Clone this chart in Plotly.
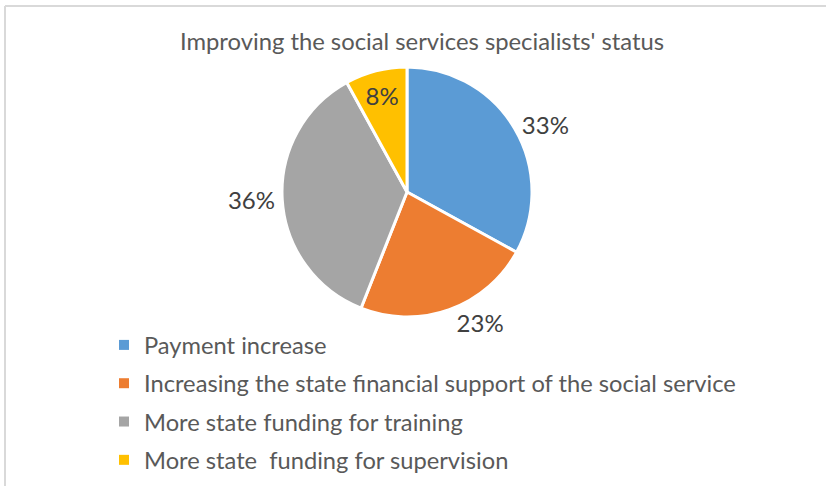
import plotly.graph_objects as go

# Survey shares for each proposed measure
categories = [
    "Payment increase",
    "Increasing the state financial support of the social service",
    "More state funding for training",
    "More state\u00a0 funding for supervision",
]
shares = [33, 23, 36, 8]
colors = ["#5B9BD5", "#ED7D31", "#A5A5A5", "#FFC000"]
label_positions = ["outside", "outside", "outside", "inside"]
title_text = "Improving the social services specialists' status"

W, H = 826, 486
cx, cy, r = 407, 192, 125  # pie centre and radius in pixels

fig = go.Figure()
fig.add_trace(go.Pie(
    labels=categories,
    values=shares,
    sort=False,
    direction="clockwise",
    rotation=0,
    marker=dict(colors=colors, line=dict(color="white", width=3)),
    texttemplate="%{value}%",
    textposition=label_positions,
    textfont=dict(family="Lato", size=24, color="#404040"),
    insidetextorientation="horizontal",
    showlegend=False,
    domain=dict(x=[(cx - r) / W, (cx + r) / W],
                y=[1 - (cy + r) / H, 1 - (cy - r) / H]),
    hoverinfo="label+percent",
))

# Legend entries as square markers, one group each so they can be spaced apart
for name, col in zip(categories, colors):
    fig.add_trace(go.Scatter(
        x=[None], y=[None], mode="markers", name=name, legendgroup=name,
        marker=dict(symbol="square", size=10, color=col, line=dict(width=0)),
    ))

fig.update_layout(
    width=W, height=H,
    margin=dict(l=0, r=0, t=0, b=0),
    paper_bgcolor="white", plot_bgcolor="white",
    xaxis=dict(visible=False), yaxis=dict(visible=False),
    title=dict(text=title_text, x=422 / W, xanchor="center",
               y=1 - 42 / H, yanchor="middle",
               font=dict(family="Lato", size=23.8, color="#595959")),
    legend=dict(x=104 / W, xanchor="left", y=1 - 323 / H, yanchor="top",
                font=dict(family="Lato", size=23.7, color="#595959"),
                tracegroupgap=4.5, bgcolor="rgba(0,0,0,0)"),
    shapes=[
        dict(type="line", xref="paper", yref="paper", x0=5 / W, x1=1, y0=1 - 6 / H, y1=1 - 6 / H,
             line=dict(color="#D9D9D9", width=2)),
        dict(type="line", xref="paper", yref="paper", x0=5 / W, x1=5 / W, y0=0, y1=1 - 6 / H,
             line=dict(color="#D9D9D9", width=2)),
    ],
)

fig.write_html("out.html")
